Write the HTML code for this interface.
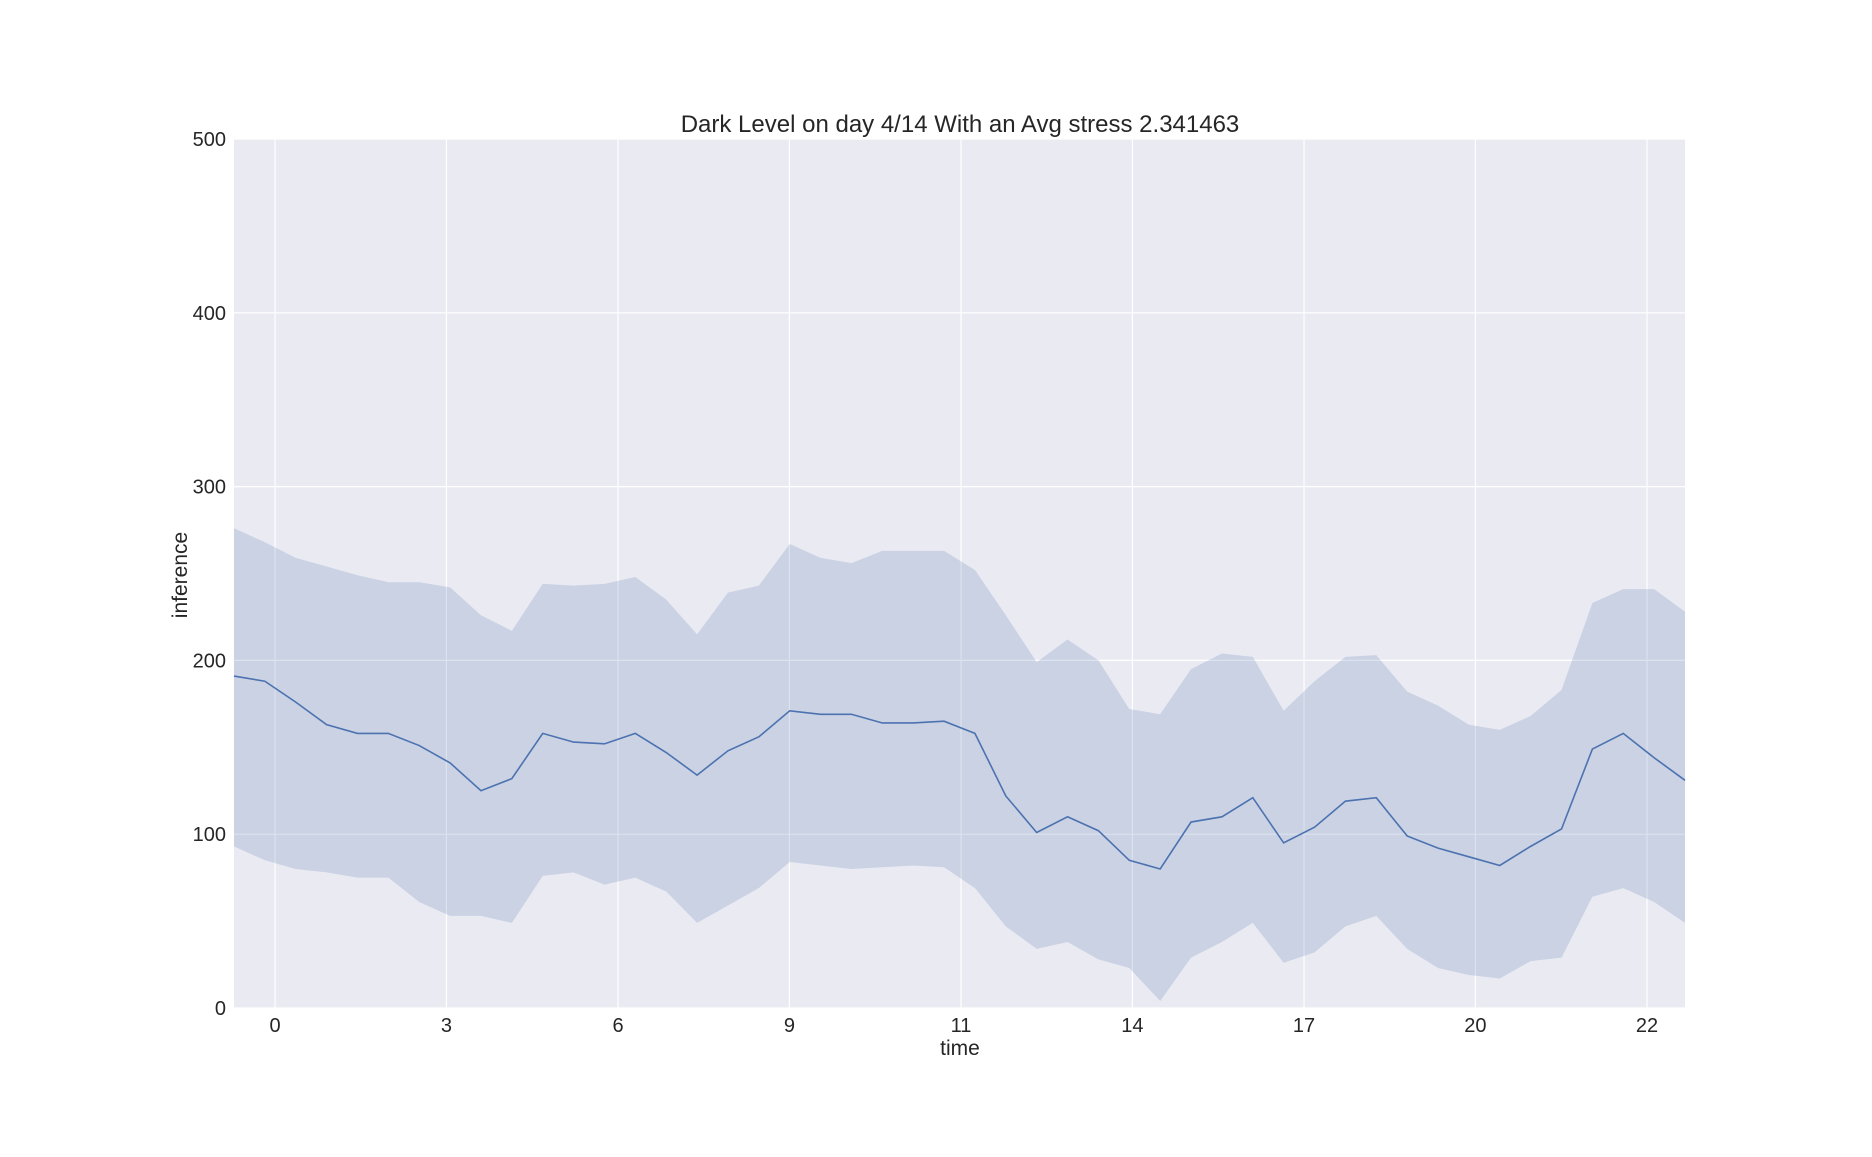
<!DOCTYPE html>
<html><head><meta charset="utf-8"><style>
body{margin:0;background:#fff}
svg text{font-family:"Liberation Sans",sans-serif;fill:#262626}
</style></head><body>
<svg id="chart" width="1872" height="1152" xmlns="http://www.w3.org/2000/svg">
<rect x="0" y="0" width="1872" height="1152" fill="#fff"/>
<rect x="234" y="139" width="1451" height="869" fill="#eaeaf2"/>
<g id="grid"></g>
<g id="marks"></g>
<g id="ticks"></g>
<text x="960" y="132" font-size="24" text-anchor="middle">Dark Level on day 4/14 With an Avg stress 2.341463</text>
<text x="960" y="1055" font-size="21" text-anchor="middle">time</text>
<text x="187" y="575" font-size="21" text-anchor="middle" transform="rotate(-90 187 575)">inference</text>
</svg>
<script>
const meanVals=[191,188,176,163,158,158,151,141,125,132,158,153,152,158,147,134,148,156,171,169,169,164,164,165,158,122,101,110,102,85,80,107,110,121,95,104,119,121,99,92,87,82,93,103,149,158,144,131];
const upperVals=[276,268,259,254,249,245,245,242,226,217,244,243,244,248,235,215,239,243,267,259,256,263,263,263,252,226,199,212,200,172,169,195,204,202,171,188,202,203,182,174,163,160,168,183,233,241,241,228];
const lowerVals=[93,85,80,78,75,75,61,53,53,49,76,78,71,75,67,49,59,69,84,82,80,81,82,81,69,47,34,38,28,23,4,29,38,49,26,32,47,53,34,23,19,17,27,29,64,69,61,49];
const xTickLabels=["0","3","6","9","11","14","17","20","22"];
const xTickIdx=[1.33,6.88,12.44,17.99,23.55,29.1,34.66,40.21,45.77];
const yTicks=[0,100,200,300,400,500];
const NS="http://www.w3.org/2000/svg";
const X0=234,X1=1685,Y0=1008,Y1=139;
const xs=i=>X0+(X1-X0)*i/(meanVals.length-1);
const ys=v=>Y0-(Y0-Y1)*v/500;
function mk(tag,attrs,parent){const e=document.createElementNS(NS,tag);for(const k in attrs)e.setAttribute(k,attrs[k]);parent.appendChild(e);return e;}
const grid=document.getElementById('grid'),marks=document.getElementById('marks'),ticks=document.getElementById('ticks');
yTicks.forEach(v=>{
 const l=mk('line',{x1:X0,x2:X1,y1:ys(v),y2:ys(v),stroke:'#fff','stroke-width':1.2},grid);
 
 
 const t=mk('text',{x:X0-8,y:ys(v)+7,'font-size':20,'text-anchor':'end'},ticks);
 t.textContent=v;
 
 
});
xTickIdx.forEach((p,k)=>{
 const l=mk('line',{x1:xs(p),x2:xs(p),y1:Y1,y2:Y0,stroke:'#fff','stroke-width':1.2},grid);
 
 
 const t=mk('text',{x:xs(p),y:Y0+24,'font-size':20,'text-anchor':'middle'},ticks);
 t.textContent=xTickLabels[k];
 
 
});
let d='';
upperVals.forEach((v,i)=>{d+=(i?'L':'M')+xs(i)+','+ys(v);});
for(let i=lowerVals.length-1;i>=0;i--)d+='L'+xs(i)+','+ys(lowerVals[i]);
const band=mk('path',{d:d+'Z',fill:'#4c72b0','fill-opacity':0.2},marks);


const pts=meanVals.map((v,i)=>xs(i)+','+ys(v)).join(' ');
const line=mk('polyline',{points:pts,fill:'none',stroke:'#4c72b0','stroke-width':1.6},marks);


</script>
</body></html>
